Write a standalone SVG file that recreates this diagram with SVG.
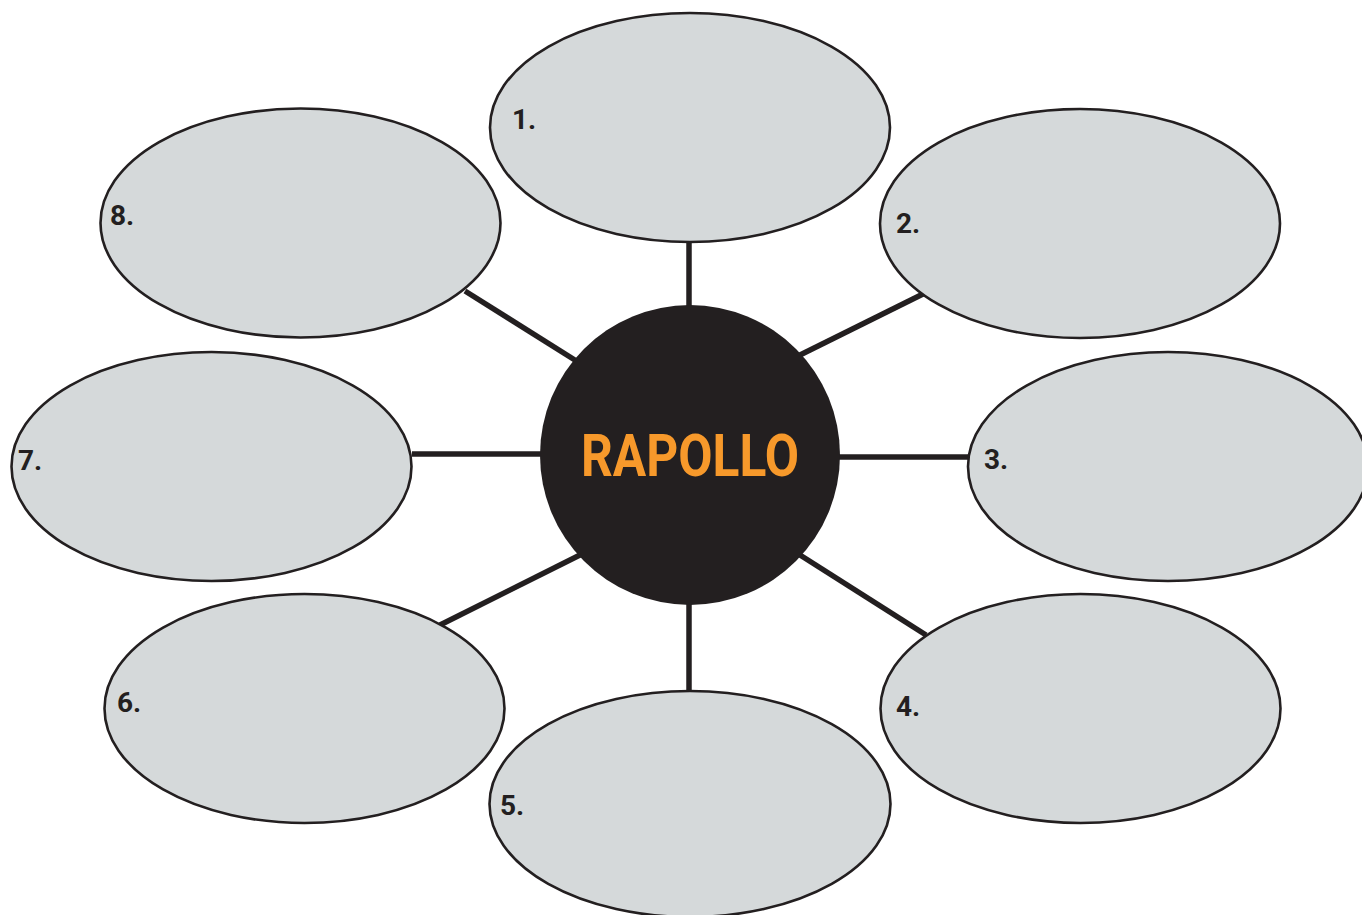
<svg xmlns="http://www.w3.org/2000/svg" width="1362" height="915" viewBox="0 0 1362 915">
<style>
.bubble{fill:#d5d9da;stroke:#231f20;stroke-width:2.6}
.lbl{font-family:Roboto,"Liberation Sans",sans-serif;font-weight:bold;font-size:28px;fill:#231f20}
.conn line{stroke:#231f20;stroke-width:5.5}
</style>
<rect width="1362" height="915" fill="#ffffff"/>
<g id="connectors" class="conn">
<line x1="689" y1="242" x2="689" y2="310"/>
<line x1="800" y1="355" x2="923" y2="294"/>
<line x1="835" y1="457" x2="969" y2="457"/>
<line x1="800" y1="555" x2="926" y2="635"/>
<line x1="689" y1="600" x2="689" y2="691"/>
<line x1="580" y1="555" x2="440" y2="625"/>
<line x1="412" y1="454" x2="545" y2="454"/>
<line x1="578" y1="362" x2="465" y2="291"/>
</g>
<g id="node1"><ellipse class="bubble" cx="690" cy="127.5" rx="200" ry="114.5"/><text class="lbl" x="512" y="129">1.</text></g>
<g id="node2"><ellipse class="bubble" cx="1080" cy="223.5" rx="200" ry="114.5"/><text class="lbl" x="896" y="233">2.</text></g>
<g id="node3"><ellipse class="bubble" cx="1168" cy="466.5" rx="200" ry="114.5"/><text class="lbl" x="984" y="469">3.</text></g>
<g id="node4"><ellipse class="bubble" cx="1080.5" cy="708.5" rx="200" ry="114.5"/><text class="lbl" x="896" y="716">4.</text></g>
<g id="node5"><ellipse class="bubble" cx="690" cy="804" rx="200.5" ry="113"/><text class="lbl" x="500" y="815">5.</text></g>
<g id="node6"><ellipse class="bubble" cx="304.5" cy="708.5" rx="200" ry="114.5"/><text class="lbl" x="117" y="712">6.</text></g>
<g id="node7"><ellipse class="bubble" cx="211.5" cy="466.5" rx="200" ry="114.5"/><text class="lbl" x="18" y="470">7.</text></g>
<g id="node8"><ellipse class="bubble" cx="300.5" cy="223" rx="200" ry="114.5"/><text class="lbl" x="110" y="225">8.</text></g>
<g id="center">
<circle cx="690" cy="455" r="150" fill="#231f20"/>
<text x="690" y="476" text-anchor="middle" textLength="218" lengthAdjust="spacingAndGlyphs" font-family="Roboto,'Liberation Sans',sans-serif" font-weight="bold" font-size="59" fill="#f7992b">RAPOLLO</text>
</g>
</svg>
